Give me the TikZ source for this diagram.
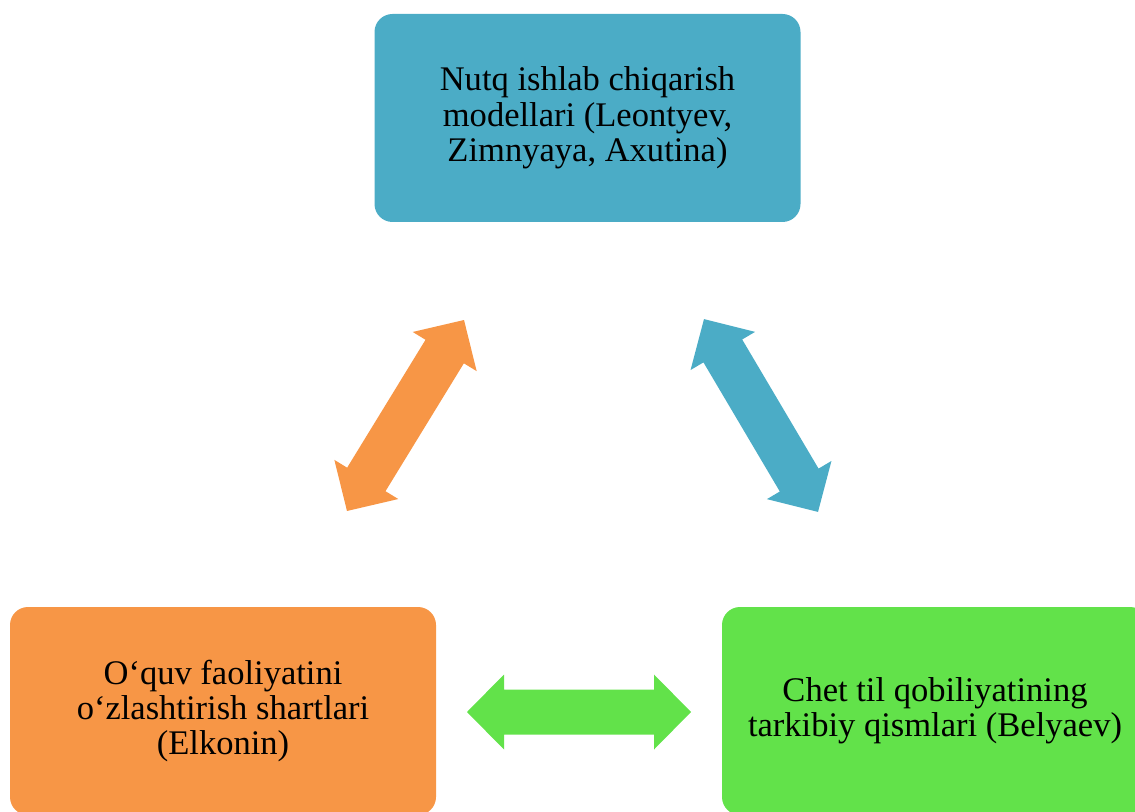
\documentclass[tikz,border=0pt]{standalone}
\usepackage{fontspec}
\setmainfont{Liberation Serif}
\definecolor{cblue}{HTML}{4BACC6}
\definecolor{corange}{HTML}{F79646}
\definecolor{cgreen}{HTML}{62E24A}
\tikzset{
  box/.style={rounded corners=13.5pt, minimum width=319.5pt, minimum height=156pt,
    align=center, inner sep=0pt, text=black,
    font=\fontsize{25.9}{26.6}\selectfont},
  blockarr/.pic={
    \fill[pic actions] (-112,0) -- (-75,37.5) -- (-75,22.5) -- (75,22.5) -- (75,37.5)
      -- (112,0) -- (75,-37.5) -- (75,-22.5) -- (-75,-22.5) -- (-75,-37.5) -- cycle;
  }
}
\begin{document}
\begin{tikzpicture}[x=0.75pt,y=-0.75pt]
\useasboundingbox (0,0) rectangle (1135,812);
\clip (0,0) rectangle (1135,812);
\node[box, fill=cblue] (top) at (587.5,118) {Nutq ishlab chiqarish\\modellari (Leontyev,\\Zimnyaya, Axutina)};
\node[box, fill=corange] (left) at (223,711) {O‘quv faoliyatini\\o‘zlashtirish shartlari\\(Elkonin)};
\node[box, fill=cgreen] (right) at (935,711) {Chet til qobiliyatining\\tarkibiy qismlari (Belyaev)};
\coordinate (ao) at (405.5,415.5);
\coordinate (ab) at (761,415.5);
\coordinate (ag) at (579,712);
\pic[fill=corange, rotate=58.5] at (ao) {blockarr};
\pic[fill=cblue, rotate=-59.4] at (ab) {blockarr};
\pic[fill=cgreen] at (ag) {blockarr};
\end{tikzpicture}
\end{document}
